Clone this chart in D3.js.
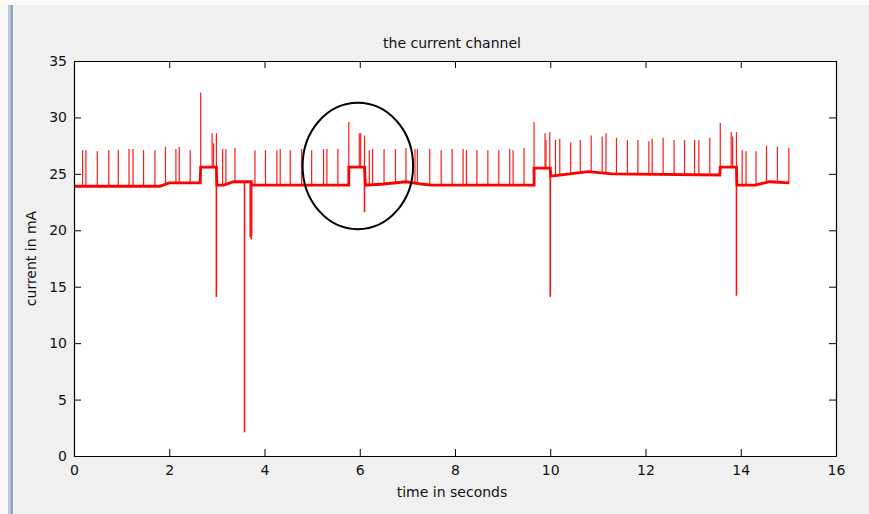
<!DOCTYPE html>
<html>
<head>
<meta charset="utf-8">
<script src="https://cdn.jsdelivr.net/npm/d3@7"></script>
<style>
  body { margin: 0; background: #f0f0f0; }
  text { font-family: "DejaVu Sans", sans-serif; fill: #111; }
</style>
</head>
<body>
<svg width="869" height="514"></svg>
<script>
// values
let xTicks = [0, 2, 4, 6, 8, 10, 12, 14, 16]
let yTicks = [0, 5, 10, 15, 20, 25, 30, 35]

// baseline level (t, mA), steps are two points at the same t
let baseline = [
  [0, 23.9], [1.8, 23.9], [2.0, 24.2], [2.65, 24.2], [2.66, 25.6], [2.99, 25.6],
  [3.0, 24.0], [3.15, 24.0], [3.35, 24.3], [3.72, 24.3], [3.74, 24.0], [5.77, 24.0],
  [5.77, 25.6], [6.10, 25.6], [6.12, 24.0], [6.5, 24.1], [6.97, 24.3], [7.3, 24.1],
  [7.5, 24.0], [9.66, 24.0], [9.66, 25.5], [10.0, 25.5], [10.01, 24.8], [10.8, 25.2],
  [11.3, 25.0], [13.56, 24.9], [13.57, 25.6], [13.91, 25.6], [13.92, 24.0], [14.3, 24.0],
  [14.6, 24.3], [15.02, 24.2]
]

// upward spikes (t, peak)
let spikes = [
  [0.18, 27.1], [0.25, 27.1], [0.49, 27.0], [0.73, 27.1], [0.93, 27.1], [1.155, 27.2],
  [1.24, 27.2], [1.46, 27.1], [1.70, 27.1], [1.92, 27.4], [2.14, 27.2], [2.21, 27.4],
  [2.44, 27.1], [2.66, 32.2], [2.90, 28.6], [2.93, 27.7], [2.99, 28.6], [3.12, 27.2],
  [3.19, 27.2], [3.38, 27.3], [3.80, 27.1], [4.02, 27.1], [4.26, 27.1], [4.33, 27.2],
  [4.54, 27.1], [4.78, 27.2], [4.99, 27.1], [5.24, 27.2], [5.31, 27.2], [5.54, 27.2],
  [5.77, 29.6], [5.99, 28.6], [6.02, 28.6], [6.10, 28.4], [6.20, 27.1], [6.27, 27.2],
  [6.51, 27.2], [6.75, 27.2], [6.97, 27.3], [7.16, 27.2], [7.21, 27.2], [7.47, 27.2],
  [7.71, 27.1], [7.94, 27.2], [8.17, 27.2], [8.24, 27.1], [8.46, 27.1], [8.69, 27.1],
  [8.92, 27.1], [9.15, 27.2], [9.22, 27.1], [9.45, 27.3], [9.66, 29.6], [9.89, 28.6],
  [9.91, 28.0], [9.99, 28.7], [10.11, 28.0], [10.20, 28.1], [10.43, 27.8], [10.63, 28.0],
  [10.86, 28.4], [11.09, 28.3], [11.17, 28.6], [11.39, 28.2], [11.62, 28.0], [11.84, 28.0],
  [12.07, 27.9], [12.14, 28.1], [12.37, 28.2], [12.60, 28.0], [12.82, 28.0], [13.03, 28.0],
  [13.12, 28.0], [13.35, 28.2], [13.57, 29.5], [13.80, 28.7], [13.83, 28.3], [13.91, 28.7],
  [14.03, 27.1], [14.11, 27.0], [14.32, 27.0], [14.54, 27.5], [14.77, 27.4], [15.01, 27.3]
]

// downward spikes (t, minimum)
let dips = [
  [2.99, 14.1], [3.58, 2.1], [3.70, 19.4], [3.72, 19.2], [3.73, 19.5], [6.10, 21.6],
  [10.0, 14.1], [13.91, 14.2]
]

// annotation ellipse (centre t, centre mA, half width s, half height mA)
let ring = [5.96, 25.7, 1.16, 5.6]

let W = 869, H = 514
let m = {left: 74, top: 61, right: 836, bottom: 456}

let svg = d3.select('svg')
svg.append('rect').attr('width', W).attr('height', H).attr('fill', '#f0f0f0')
// window chrome
svg.append('rect').attr('width', W).attr('height', 5).attr('fill', '#fafafa')
svg.append('rect').attr('x', 0).attr('y', 5).attr('width', 8).attr('height', H).attr('fill', '#f7f7f7')
svg.append('rect').attr('x', 8).attr('y', 5).attr('width', 2.5).attr('height', H).attr('fill', '#b9c8da')
svg.append('rect').attr('x', 10.5).attr('y', 5).attr('width', 2.5).attr('height', H).attr('fill', '#8fa3bd')

let x = d3.scaleLinear().domain([0, 16]).range([m.left, m.right])
let y = d3.scaleLinear().domain([0, 35]).range([m.bottom, m.top])

svg.append('rect')
  .attr('x', m.left).attr('y', m.top)
  .attr('width', m.right - m.left).attr('height', m.bottom - m.top)
  .attr('fill', '#fff')

let plot = svg.append('g')

// level under a spike, from the baseline breakpoints
function levelAt(t) {
  for (let i = 1; i < baseline.length; i++) {
    let a = baseline[i - 1], b = baseline[i]
    if (t <= b[0]) {
      if (b[0] === a[0]) return a[1]
      return a[1] + (b[1] - a[1]) * (t - a[0]) / (b[0] - a[0])
    }
  }
  return baseline[baseline.length - 1][1]
}

plot.selectAll('line.spike')
  .data(spikes)
  .enter().append('line')
  .attr('class', 'spike')
  .attr('x1', d => x(d[0])).attr('x2', d => x(d[0]))
  .attr('y1', d => y(levelAt(d[0]))).attr('y2', d => y(d[1]))
  .attr('stroke', '#ff1a1a').attr('stroke-width', 1.2)

plot.selectAll('line.dip')
  .data(dips)
  .enter().append('line')
  .attr('class', 'dip')
  .attr('x1', d => x(d[0])).attr('x2', d => x(d[0]))
  .attr('y1', d => y(levelAt(d[0]))).attr('y2', d => y(d[1]))
  .attr('stroke', '#ff1010').attr('stroke-width', 1.6)

plot.append('path')
  .datum(baseline)
  .attr('d', d3.line().x(d => x(d[0])).y(d => y(d[1])))
  .attr('fill', 'none')
  .attr('stroke', '#ff0000')
  .attr('stroke-width', 2.8)

// circle annotation
plot.append('ellipse')
  .attr('cx', x(ring[0])).attr('cy', y(ring[1]))
  .attr('rx', x(ring[0] + ring[2]) - x(ring[0]))
  .attr('ry', y(ring[1] - ring[3]) - y(ring[1]))
  .attr('fill', 'none').attr('stroke', '#000').attr('stroke-width', 2)

// axes, ticks inside, mirrored on top and right
let tk = 7
let fmt = d3.format('d')
let axB = svg.append('g').attr('transform', 'translate(0,' + m.bottom + ')')
  .call(d3.axisBottom(x).tickValues(xTicks).tickSizeInner(-tk).tickSizeOuter(0).tickPadding(9).tickFormat(fmt))
let axT = svg.append('g').attr('transform', 'translate(0,' + m.top + ')')
  .call(d3.axisTop(x).tickValues(xTicks).tickSizeInner(-tk).tickSizeOuter(0).tickFormat(''))
let axL = svg.append('g').attr('transform', 'translate(' + m.left + ',0)')
  .call(d3.axisLeft(y).tickValues(yTicks).tickSizeInner(-tk).tickSizeOuter(0).tickPadding(7).tickFormat(fmt))
let axR = svg.append('g').attr('transform', 'translate(' + m.right + ',0)')
  .call(d3.axisRight(y).tickValues(yTicks).tickSizeInner(-tk).tickSizeOuter(0).tickFormat(''))

;[axB, axT, axL, axR].forEach(g => {
  g.selectAll('path.domain').attr('stroke', '#000').attr('stroke-width', 1.2)
  g.selectAll('line').attr('stroke', '#000')
  g.selectAll('text').attr('font-size', 14).attr('fill', '#111')
    .style('font-family', '"DejaVu Sans", sans-serif')
})

svg.append('text')
  .attr('x', 452).attr('y', 48)
  .attr('text-anchor', 'middle').attr('font-size', 14)
  .text('the current channel')

svg.append('text')
  .attr('x', 452).attr('y', 497)
  .attr('text-anchor', 'middle').attr('font-size', 14)
  .text('time in seconds')

svg.append('text')
  .attr('transform', 'translate(36,' + ((m.top + m.bottom) / 2) + ')rotate(-90)')
  .attr('text-anchor', 'middle').attr('font-size', 14)
  .text('current in mA')
</script>
</body>
</html>
